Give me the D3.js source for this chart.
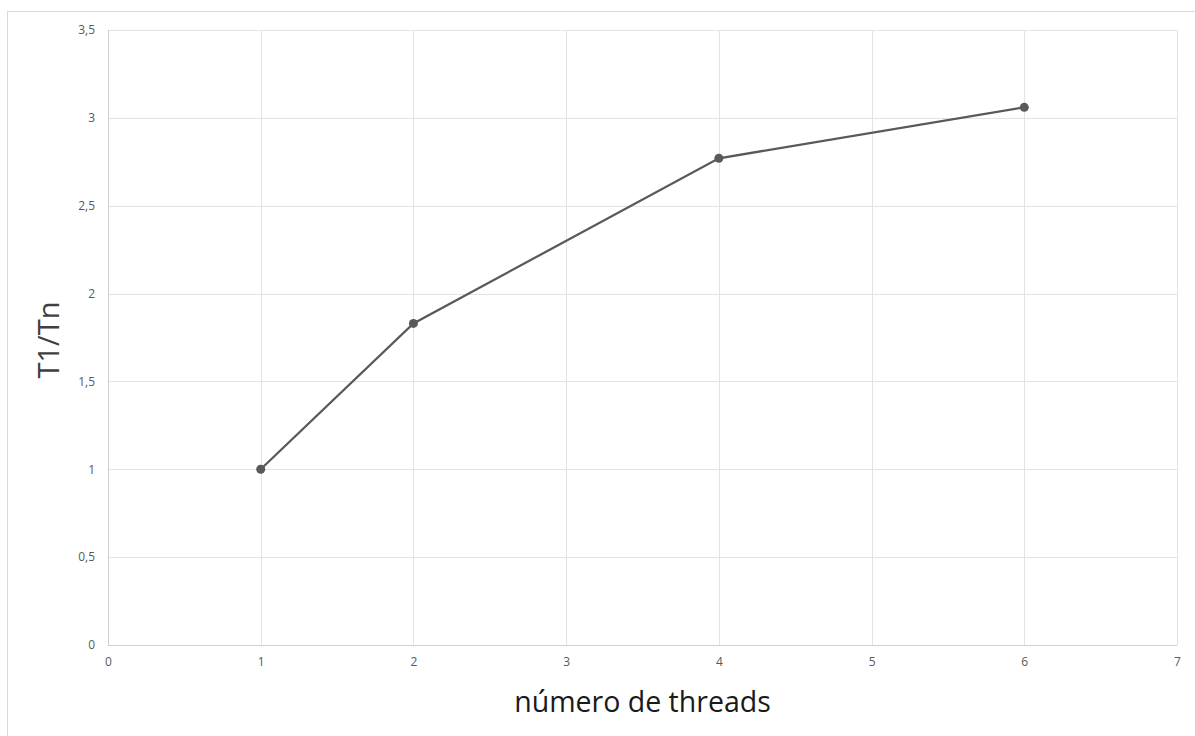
<!DOCTYPE html>
<html>
<head>
<meta charset="utf-8">
<script src="https://cdn.jsdelivr.net/npm/d3@7"></script>
<style>
  body { margin: 0; background: #fff; }
  svg { display: block; }
</style>
</head>
<body>
<div id="chart"></div>
<script>
// speedup data
var threads = [1, 2, 4, 6];
var speedup = [1.0, 1.83, 2.77, 3.06];
var xTicks = [0, 1, 2, 3, 4, 5, 6, 7];
var yTicks = [0, 0.5, 1, 1.5, 2, 2.5, 3, 3.5];

var W = 1195, H = 736;
var margin = {top: 30, right: 18, bottom: 91, left: 108},
    width = W - margin.left - margin.right,
    height = H - margin.top - margin.bottom;

var root = d3.select("#chart")
  .append("svg")
    .attr("width", W)
    .attr("height", H);

// outer chart frame
root.append("rect")
  .attr("x", 7.5).attr("y", 11.5)
  .attr("width", W).attr("height", H)
  .attr("fill", "none")
  .attr("stroke", "#d9d9d9")
  .attr("stroke-width", 1);

var svg = root.append("g")
  .attr("transform", "translate(" + margin.left + "," + margin.top + ")");

var x = d3.scaleLinear().domain([0, 7]).range([0, width]);
var y = d3.scaleLinear().domain([0, 3.5]).range([height, 0]);

var fmt = function(d) { return String(d).replace(".", ","); };

// gridlines
svg.append("g")
  .selectAll("line.gy")
  .data(yTicks)
  .enter().append("line")
    .attr("x1", 0).attr("x2", width)
    .attr("y1", function(d) { return Math.round(y(d)) + 0.5; })
    .attr("y2", function(d) { return Math.round(y(d)) + 0.5; })
    .attr("stroke", function(d) { return d === 0 ? "#cfcfcf" : "#e3e3e3"; });

svg.append("g")
  .selectAll("line.gx")
  .data(xTicks)
  .enter().append("line")
    .attr("y1", 0).attr("y2", height)
    .attr("x1", function(d) { return Math.round(x(d)) + 0.5; })
    .attr("x2", function(d) { return Math.round(x(d)) + 0.5; })
    .attr("stroke", function(d) { return d === 0 ? "#cfcfcf" : "#e3e3e3"; });

// axes (labels only)
var xAxis = svg.append("g")
  .attr("transform", "translate(0," + height + ")")
  .call(d3.axisBottom(x).tickValues(xTicks).tickSize(0).tickPadding(12).tickFormat(fmt));
var yAxis = svg.append("g")
  .call(d3.axisLeft(y).tickValues(yTicks).tickSize(0).tickPadding(13).tickFormat(fmt));

[xAxis, yAxis].forEach(function(a) {
  a.select(".domain").remove();
  a.selectAll("text")
    .style("font-family", "'Open Sans', sans-serif")
    .style("font-size", "12px")
    .style("fill", "#595959");
});

// line
var line = d3.line()
  .x(function(d, i) { return x(threads[i]); })
  .y(function(d) { return y(d); });

svg.append("path")
  .datum(speedup)
  .attr("d", line)
  .attr("fill", "none")
  .attr("stroke", "#595959")
  .attr("stroke-width", 2.25);

svg.selectAll("circle")
  .data(speedup)
  .enter().append("circle")
    .attr("cx", function(d, i) { return x(threads[i]); })
    .attr("cy", function(d) { return y(d); })
    .attr("r", 4.5)
    .attr("fill", "#595959");

// axis titles
root.append("text")
  .attr("x", margin.left + width / 2)
  .attr("y", 712)
  .attr("text-anchor", "middle")
  .style("font-family", "'Open Sans', sans-serif")
  .style("font-size", "28.5px")
  .style("fill", "#1a1a1a")
  .text("número de threads");

root.append("text")
  .attr("transform", "translate(59,340) rotate(-90)")
  .attr("text-anchor", "middle")
  .style("font-family", "'Open Sans', sans-serif")
  .style("font-size", "29px")
  .style("fill", "#404040")
  .text("T1/Tn");
</script>
</body>
</html>
